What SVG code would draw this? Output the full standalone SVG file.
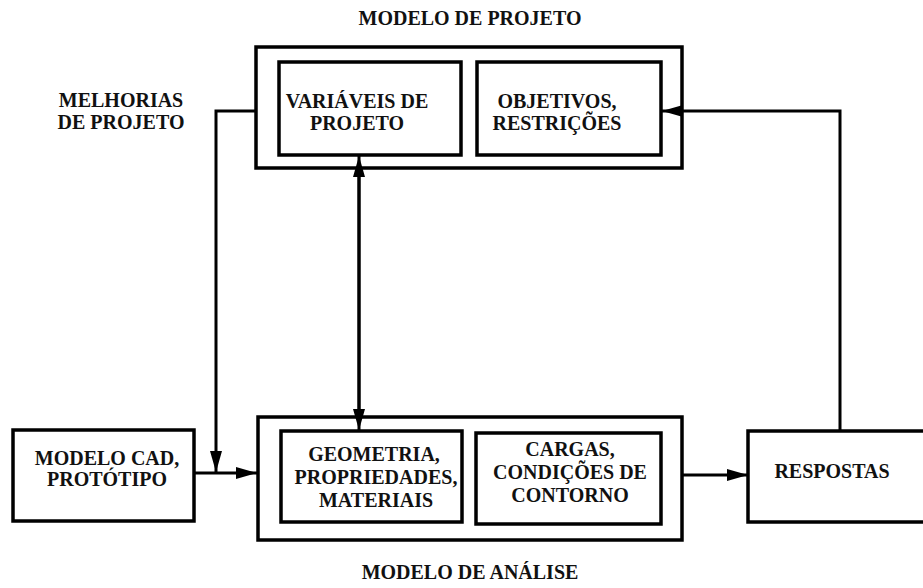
<svg xmlns="http://www.w3.org/2000/svg" width="923" height="588" viewBox="0 0 923 588">
<style>
.box{fill:none;stroke:#000;stroke-width:3.5}
.ln{fill:none;stroke:#000;stroke-width:3}
text{font-family:"Liberation Serif","Times New Roman",serif;font-weight:bold;font-size:20px;fill:#111;text-anchor:middle}
</style>
<defs>
<marker id="ah" markerWidth="21" markerHeight="12" refX="21" refY="6" orient="auto" markerUnits="userSpaceOnUse">
<path d="M0,0 L21,6 L0,12 Z" fill="#000"/>
</marker>
</defs>
<rect width="923" height="588" fill="#fff"/>
<text x="470" y="25">MODELO DE PROJETO</text>
<text x="470" y="579">MODELO DE ANÁLISE</text>
<text x="121" y="107">MELHORIAS</text>
<text x="121" y="129">DE PROJETO</text>
<g id="modelo-projeto">
<rect class="box" x="256" y="47" width="426" height="121"/>
</g>
<g id="variaveis">
<rect class="box" x="279" y="62" width="182" height="93"/>
<text x="357" y="108">VARIÁVEIS DE</text>
<text x="357" y="130">PROJETO</text>
</g>
<g id="objetivos">
<rect class="box" x="477" y="62" width="184" height="93"/>
<text x="557" y="108">OBJETIVOS,</text>
<text x="557" y="130">RESTRIÇÕES</text>
</g>
<g id="modelo-analise">
<rect class="box" x="258" y="417" width="424" height="123"/>
</g>
<g id="geometria">
<rect class="box" x="281" y="431" width="181" height="91"/>
<text x="374" y="461">GEOMETRIA,</text>
<text x="376" y="484">PROPRIEDADES,</text>
<text x="376" y="507">MATERIAIS</text>
</g>
<g id="cargas">
<rect class="box" x="476" y="433" width="185" height="91"/>
<text x="570" y="456">CARGAS,</text>
<text x="570" y="479">CONDIÇÕES DE</text>
<text x="570" y="502">CONTORNO</text>
</g>
<g id="cad">
<rect class="box" x="13" y="430" width="181" height="91"/>
<text x="107" y="465">MODELO CAD,</text>
<text x="107" y="486">PROTÓTIPO</text>
</g>
<g id="respostas">
<rect class="box" x="748" y="431" width="180" height="91"/>
<text x="832" y="478">RESPOSTAS</text>
</g>
<g id="connectors">
<path class="ln" d="M256,111 H216 V472" marker-end="url(#ah)"/>
<path class="ln" d="M194,473 H257" marker-end="url(#ah)"/>
<path class="ln" d="M359,170 V430" marker-end="url(#ah)"/>
<path class="ln" d="M359,420 V156" marker-end="url(#ah)"/>
<path class="ln" d="M682,475 H748" marker-end="url(#ah)"/>
<path class="ln" d="M840,431 V111 H662" marker-end="url(#ah)"/>
</g>
</svg>
